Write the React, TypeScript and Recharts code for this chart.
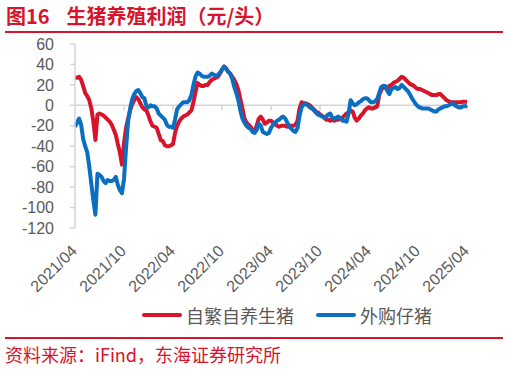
import { LineChart, Line, XAxis, YAxis, ReferenceLine } from 'recharts';

// months since 2021/04, one sample every quarter month
const STEP = 0.25;

const tickLabels = ['2021/04', '2021/10', '2022/04', '2022/10', '2023/04', '2023/10', '2024/04', '2024/10', '2025/04'];
const xTicks = [0, 6, 12, 18, 24, 30, 36, 42, 48];
const yTicks = [-120, -100, -80, -60, -40, -20, 0, 20, 40, 60];
const seriesNames = ['自繁自养生猪', '外购仔猪'];

// 自繁自养生猪 (元/头)
const selfBred = [
  27, 27, 28, 25, 19, 12, 9, 5,
  -3, -16, -34, -9, -8, -9, -10, -12,
  -14, -16, -19, -24, -29, -38, -46, -58,
  -37, -22, -13, -5, 1, 5, 8, 6,
  2, -2, -4, -5, -10, -16, -20, -21,
  -22, -28, -34, -35, -39, -40, -40, -39,
  -38, -27, -20, -16, -13, -11, -10, -9,
  -7, -5, 3, 13, 22, 20, 19, 19,
  20, 20, 23, 25, 26, 27, 28, 31,
  35, 38, 36, 33, 31, 28, 25, 21,
  15, 6, -3, -13, -17, -19, -21, -24,
  -25, -20, -13, -11, -14, -18, -17, -15,
  -15, -17, -18, -20, -21, -20, -20, -20,
  -21, -20, -20, -20, -19, -15, -3, 3,
  2, 2, 1, 0, -2, -4, -6, -7,
  -9, -10, -12, -14, -14, -15, -14, -15,
  -14, -14, -13, -12, -10, -8, -7, -5,
  -6, -12, -15, -13, -10, -8, -5, -3,
  -2, -3, -3, -2, -1, 10, 15, 18,
  17, 16, 19, 20, 22, 23, 24, 26,
  28, 27, 25, 23, 21, 20, 19, 17,
  16, 16, 15, 14, 13, 12, 11, 10,
  10, 10, 11, 11, 9, 7, 5, 4,
  3, 3, 3, 3, 3, 3, 3.5, 3.5,
  3.5,
];

// 外购仔猪 (元/头)
const boughtPiglet = [
  -21, -17, -13, -19, -33, -40, -46, -60,
  -77, -93, -107, -67, -68, -70, -74, -76,
  -73, -74, -74, -73, -70, -78, -83, -86,
  -72, -42, -16, -3, 6, 11, 14, 15,
  12, 8, 7, -1, -2, 0, -1, -1,
  -3, -8, -10, -12, -14, -19, -21, -21,
  -22, -14, -4, -1, 1, 3, 3, 3,
  5, 10, 20, 28, 32, 31, 29, 28,
  28, 28, 29, 31, 30, 29, 30, 32,
  35, 38, 36, 33, 31, 26, 18, 12,
  5, -5, -13, -17, -20, -22, -23, -26,
  -27, -24, -18, -20, -26, -27, -28, -27,
  -22, -19, -17, -15, -14, -12, -11, -13,
  -17, -21, -23, -25, -26, -22, -10, -2,
  1, 1, 0, -2, -3, -5, -7, -9,
  -10, -11, -12, -11, -9, -8, -12, -13,
  -12, -11, -13, -15, -15, -16, -8, 5,
  2, 0, 1, 3, 4, 6, 7, 7,
  5, 3, 3, 4, 6, 12, 18, 19,
  19, 14, 11, 16, 17, 18, 16, 17,
  20, 18, 16, 14, 11, 7, 4, 1,
  -1, -2, -3, -3, -3, -3, -4, -5,
  -6, -6, -4, -3, -2, -1, -1, 0,
  1, 2, 0, -1, -2, -2, -1, -1,
  0,
];

const RED = '#d7142b';
const BLUE = '#0a6fc0';
const GREY = '#595959';
const AXIS = '#d4d4d4';
const LATIN = '"Liberation Sans", Arial, "Noto Sans CJK SC", sans-serif';
const CJK = '"Noto Sans CJK SC", "Liberation Sans", sans-serif';

const data = selfBred.map((v, i) => ({ t: i * STEP, selfBred: v, boughtPiglet: boughtPiglet[i] }));

function DateTick({ x, y, payload }: any) {
  const label = tickLabels[xTicks.indexOf(payload.value)];
  const ax = x + 3;
  const ay = y + 24;
  return (
    <text x={ax} y={ay} transform={`rotate(-45, ${ax}, ${ay})`} textAnchor="end" fill={GREY} fontSize={16} fontFamily={LATIN}>
      {label}
    </text>
  );
}

function LegendItem({ color, name }: { color: string, name: string }) {
  return (
    <div style={{ display: 'flex', alignItems: 'center', marginRight: 22 }}>
      <div style={{ width: 40, height: 4, borderRadius: 2, background: color, marginRight: 4 }} />
      <span style={{ fontSize: 18, color: GREY, fontFamily: CJK }}>{name}</span>
    </div>
  );
}

export default function App() {
  return (
    <div style={{ position: 'absolute', left: 0, top: 0, width: 509, height: 370, background: '#fff', overflow: 'hidden' }}>
      <div style={{ position: 'absolute', left: 6, top: 2, color: RED, fontFamily: CJK, fontWeight: 700, fontSize: 20, lineHeight: '28px', whiteSpace: 'nowrap' }}>
        图16<span style={{ marginLeft: 17 }}>生猪养殖利润（元/头）</span>
      </div>
      <div style={{ position: 'absolute', left: 5, top: 31, width: 498, height: 2, background: RED }} />

      <div style={{ position: 'absolute', left: 0, top: 0 }}>
        <LineChart width={509} height={300} data={data} margin={{ top: 44, right: 42, left: 0, bottom: 0 }}>
          <XAxis
            dataKey="t"
            type="number"
            domain={[0, 48]}
            ticks={xTicks}
            axisLine={false}
            tickLine={false}
            tickSize={0}
            tickMargin={0}
            height={72}
            interval={0}
            tick={<DateTick />}
          />
          <YAxis
            type="number"
            domain={[-120, 60]}
            ticks={yTicks}
            width={75}
            interval={0}
            axisLine={{ stroke: AXIS, strokeWidth: 1.5 }}
            tickLine={{ stroke: AXIS, strokeWidth: 1.5 }}
            tickSize={5}
            tickMargin={16}
            tick={{ fill: GREY, fontSize: 16, fontFamily: LATIN }}
          />
          <ReferenceLine y={0} stroke={AXIS} strokeWidth={1.5} />
          {xTicks.slice(1).map(t => (
            <ReferenceLine key={t} segment={[{ x: t, y: 0 }, { x: t, y: -5 }]} stroke={AXIS} strokeWidth={1.5} />
          ))}
          <Line type="linear" dataKey="selfBred" name={seriesNames[0]} stroke={RED} strokeWidth={4} dot={false} strokeLinejoin="round" isAnimationActive={false} />
          <Line type="linear" dataKey="boughtPiglet" name={seriesNames[1]} stroke={BLUE} strokeWidth={4} dot={false} strokeLinejoin="round" isAnimationActive={false} />
        </LineChart>
      </div>

      <div style={{ position: 'absolute', left: 142, top: 302, display: 'flex' }}>
        <LegendItem color={RED} name={seriesNames[0]} />
        <LegendItem color={BLUE} name={seriesNames[1]} />
      </div>

      <div style={{ position: 'absolute', left: 5, top: 337, width: 498, height: 2, background: RED }} />
      <div style={{ position: 'absolute', left: 5, top: 342, color: RED, fontFamily: CJK, fontSize: 18, lineHeight: '24px', whiteSpace: 'nowrap' }}>
        资料来源：iFind，东海证券研究所
      </div>
    </div>
  );
}
